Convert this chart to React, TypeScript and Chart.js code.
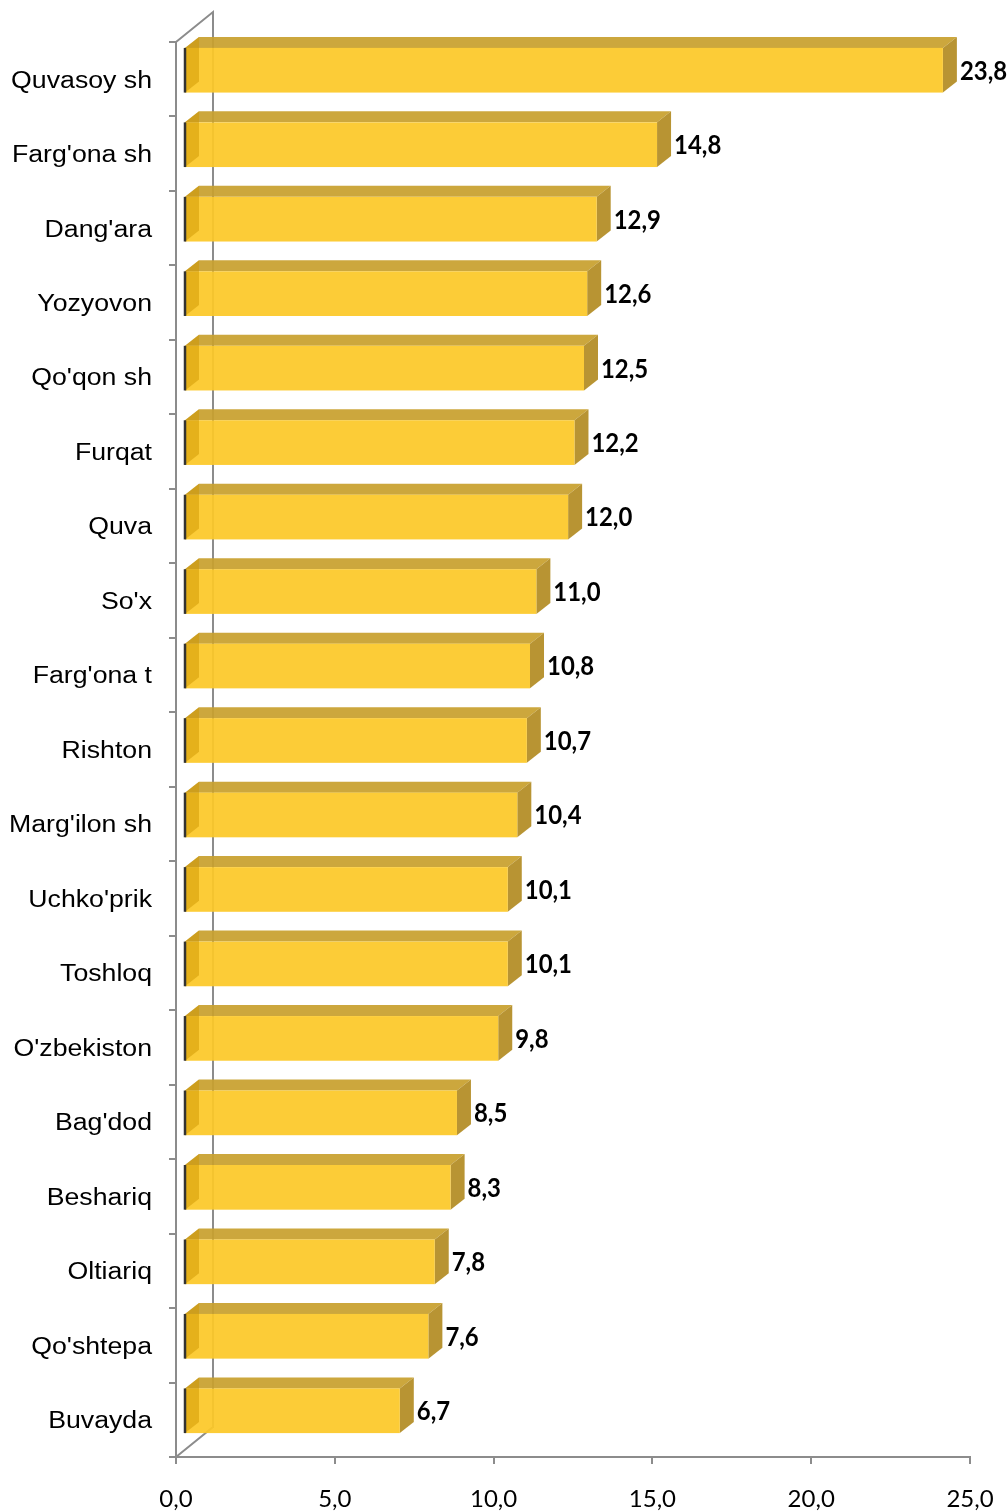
import React, { useEffect, useRef } from "react";
import { Chart, registerables } from "chart.js";

Chart.register(...registerables);

const categories: string[] = [
  "Quvasoy sh", "Farg'ona sh", "Dang'ara", "Yozyovon", "Qo'qon sh", "Furqat", "Quva",
  "So'x", "Farg'ona t", "Rishton", "Marg'ilon sh", "Uchko'prik", "Toshloq", "O'zbekiston",
  "Bag'dod", "Beshariq", "Oltiariq", "Qo'shtepa", "Buvayda",
];
const values: number[] = [
  23.8, 14.8, 12.9, 12.6, 12.5, 12.2, 12.0, 11.0, 10.8, 10.7, 10.4, 10.1, 10.1, 9.8,
  8.5, 8.3, 7.8, 7.6, 6.7,
];
const xMin = 0;
const xMax = 25;
const xStep = 5;

const fmt = (v: number) => v.toFixed(1).replace(".", ",");

// 3D styling constants
const WALL_DX = 37;
const WALL_DY = -30;
const BAR_LEFT_INSET = 8;
const BAR_RIGHT_INSET = 11;
const BAR_OY = -9;
const BAR_DX = 14;
const BAR_DY = -11;

const threeD = {
  id: "threeD",
  afterDatasetsDraw(chart: any) {
    const ctx: CanvasRenderingContext2D = chart.ctx;
    const area = chart.chartArea;
    const xs = chart.scales.x;
    const ys = chart.scales.y;
    const x0 = xs.getPixelForValue(0);
    ctx.save();
    // wall outline
    ctx.strokeStyle = "#8c8c8c";
    ctx.lineWidth = 2;
    ctx.beginPath();
    ctx.moveTo(x0, area.top);
    ctx.lineTo(x0 + WALL_DX, area.top + WALL_DY);
    ctx.lineTo(x0 + WALL_DX, area.bottom + WALL_DY);
    ctx.lineTo(x0, area.bottom);
    ctx.stroke();

    const meta = chart.getDatasetMeta(0);
    meta.data.forEach((el: any, i: number) => {
      const p = el.getProps(["x", "y", "base", "height"], true);
      const L = p.base + BAR_LEFT_INSET;
      const R = p.x + BAR_RIGHT_INSET;
      const T = p.y - p.height / 2 + BAR_OY;
      const B = p.y + p.height / 2 + BAR_OY;
      // top face
      ctx.fillStyle = "rgba(200,160,46,0.93)";
      ctx.beginPath();
      ctx.moveTo(L, T);
      ctx.lineTo(R, T);
      ctx.lineTo(R + BAR_DX, T + BAR_DY);
      ctx.lineTo(L + BAR_DX, T + BAR_DY);
      ctx.closePath();
      ctx.fill();
      // side face
      ctx.fillStyle = "rgba(182,145,44,0.97)";
      ctx.beginPath();
      ctx.moveTo(R, T);
      ctx.lineTo(R + BAR_DX, T + BAR_DY);
      ctx.lineTo(R + BAR_DX, B + BAR_DY);
      ctx.lineTo(R, B);
      ctx.closePath();
      ctx.fill();
      // front face
      ctx.fillStyle = "rgba(252,200,40,0.93)";
      ctx.fillRect(L, T, R - L, B - T);
      // left cap seen through
      ctx.fillStyle = "rgba(205,150,0,0.5)";
      ctx.beginPath();
      ctx.moveTo(L, T);
      ctx.lineTo(L + BAR_DX, T + BAR_DY);
      ctx.lineTo(L + BAR_DX, B + BAR_DY);
      ctx.lineTo(L, B);
      ctx.closePath();
      ctx.fill();
      // dark left edge
      ctx.strokeStyle = "#333333";
      ctx.lineWidth = 2.5;
      ctx.beginPath();
      ctx.moveTo(L, T);
      ctx.lineTo(L, B);
      ctx.stroke();
      // value label
      ctx.save();
      ctx.translate(R + BAR_DX + 3, (T + B) / 2 + 1);
      ctx.scale(0.92, 1);
      ctx.fillStyle = "#000";
      ctx.font = "bold 26px Lato";
      ctx.textAlign = "left";
      ctx.textBaseline = "middle";
      ctx.fillText(fmt(values[i]), 0, 0);
      ctx.restore();
    });

    // category labels
    categories.forEach((c, i) => {
      const y = ys.getPixelForValue(i);
      ctx.save();
      ctx.translate(152, y + 2);
      ctx.scale(1.16, 1);
      ctx.fillStyle = "#000";
      ctx.font = "23px 'Liberation Sans'";
      ctx.textAlign = "right";
      ctx.textBaseline = "middle";
      ctx.fillText(c, 0, 0);
      ctx.restore();
    });
    ctx.restore();
  },
};

export default function App() {
  const ref = useRef<HTMLCanvasElement | null>(null);
  useEffect(() => {
    if (!ref.current) return;
    const chart = new Chart(ref.current, {
      type: "bar",
      data: {
        labels: categories,
        datasets: [
          {
            data: values,
            backgroundColor: "rgba(0,0,0,0)",
            borderWidth: 0,
            barPercentage: 0.6,
            categoryPercentage: 1,
          },
        ],
      },
      options: {
        indexAxis: "y",
        animation: false,
        responsive: true,
        maintainAspectRatio: false,
        layout: { padding: { top: 42, right: 37, left: 0, bottom: 0 } },
        plugins: { legend: { display: false }, tooltip: { enabled: false }, title: { display: false } },
        scales: {
          x: {
            min: xMin,
            max: xMax,
            afterFit: (s: any) => { s.height = 55; s.paddingLeft = 0; s.paddingRight = 0; },
            border: { display: true, color: "#8c8c8c", width: 2 },
            grid: { display: true, drawOnChartArea: false, drawTicks: true, tickLength: 7, color: "#8c8c8c", lineWidth: 2 },
            ticks: {
              stepSize: xStep,
              padding: 21,
              color: "#000",
              font: { family: "Lato", size: 24 },
              callback: (v: any) => fmt(Number(v)),
            },
          },
          y: {
            afterFit: (s: any) => { s.width = 176; s.paddingTop = 0; s.paddingBottom = 0; },
            border: { display: true, color: "#8c8c8c", width: 2 },
            grid: { display: true, drawOnChartArea: false, drawTicks: true, tickLength: 7, color: "#8c8c8c", lineWidth: 2, offset: true },
            ticks: { display: false },
          },
        },
      },
      plugins: [threeD],
    });
    return () => chart.destroy();
  }, []);
  return (
    <div style={{ position: "absolute", left: 0, top: 0, width: 1007, height: 1512 }}>
      <canvas ref={ref} />
    </div>
  );
}
